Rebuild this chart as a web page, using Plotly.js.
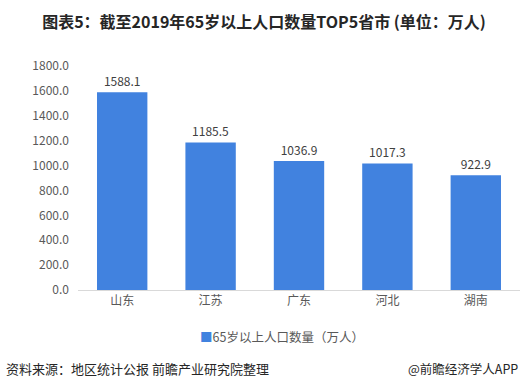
<!DOCTYPE html>
<html>
<head>
<meta charset="utf-8">
<script src="https://cdn.plot.ly/plotly-3.0.1.min.js"></script>
<style>html,body{margin:0;padding:0;background:#fff;}#chart{width:528px;height:390px;}</style>
</head>
<body>
<div id="chart"></div>
<script>
var categories = ["山东", "江苏", "广东", "河北", "湖南"];
var values = [1588.1, 1185.5, 1036.9, 1017.3, 922.9];
var seriesName = "65岁以上人口数量（万人）";
var tickVals = [0, 200, 400, 600, 800, 1000, 1200, 1400, 1600, 1800];
var tickText = tickVals.map(function(v){ return v.toFixed(1); });

var font = "Noto Sans CJK SC, Microsoft YaHei, sans-serif";
var barColor = "#4182DF";
var trace = {
  type: "bar",
  x: categories,
  y: values,
  name: seriesName,
  marker: {color: barColor},
  text: values.map(function(v){ return v.toFixed(1); }),
  textposition: "outside",
  cliponaxis: false,
  textfont: {family: font, size: 12, color: "#404040"},
  showlegend: false
};
var layout = {
  width: 528, height: 390,
  margin: {l: 78, r: 8, t: 66, b: 100},
  paper_bgcolor: "#fff", plot_bgcolor: "#fff",
  bargap: 0.43,
  title: {text: "<b>图表5：截至2019年65岁以上人口数量TOP5省市 (单位：万人)</b>", x: 0.5, xanchor: "center", y: 0.943, yanchor: "middle",
          font: {family: font, size: 16, color: "#262626"}},
  xaxis: {showgrid: false, showline: true, linecolor: "#d9d9d9", linewidth: 1, ticks: "",
          tickfont: {family: font, size: 12, color: "#595959"}, fixedrange: true},
  yaxis: {range: [0, 1800], tickvals: tickVals, ticktext: tickText, showgrid: false, zeroline: false,
          showline: false, ticks: "", ticklen: 0, ticklabelstandoff: 8,
          tickfont: {family: font, size: 12, color: "#595959"}},
  showlegend: false,
  annotations: [
    {text: "<span style='color:" + barColor + "'>■</span>" + seriesName, xref: "paper", yref: "paper", x: 198/442 - 78/442, xanchor: "left",
     y: -46/224, yanchor: "middle", showarrow: false, font: {family: font, size: 12.5, color: "#595959"}},
    {text: "资料来源：地区统计公报 前瞻产业研究院整理", xref: "paper", yref: "paper", x: -78/442, xanchor: "left",
     y: -78/224, yanchor: "middle", showarrow: false, xshift: 4, font: {family: font, size: 13, color: "#262626"}},
    {text: "@前瞻经济学人APP", xref: "paper", yref: "paper", x: 1, xanchor: "right",
     y: -78/224, yanchor: "middle", showarrow: false, font: {family: font, size: 12.5, color: "#262626"}}
  ]
};
Plotly.newPlot("chart", [trace], layout, {displayModeBar: false, staticPlot: true});
</script>
</body>
</html>
